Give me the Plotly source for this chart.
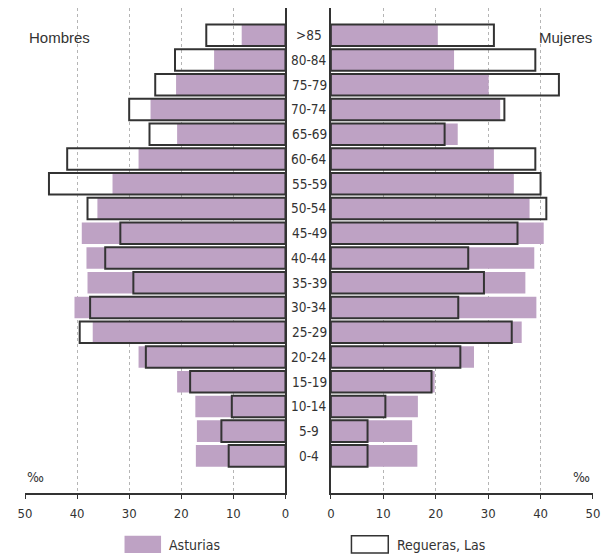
import plotly.graph_objects as go

ages = ["0-4", "5-9", "10-14", "15-19", "20-24", "25-29", "30-34", "35-39", "40-44",
        "45-49", "50-54", "55-59", "60-64", "65-69", "70-74", "75-79", "80-84", ">85"]

asturias_h = [17.2, 17.0, 17.3, 20.8, 28.2, 37.0, 40.5, 38.0, 38.2,
              39.1, 36.1, 33.2, 28.2, 20.8, 25.9, 21.0, 13.7, 8.4]
regueras_h = [10.9, 12.3, 10.3, 18.3, 26.8, 39.5, 37.5, 29.2, 34.6,
              31.7, 38.0, 45.4, 41.9, 26.1, 30.0, 25.0, 21.2, 15.2]
asturias_m = [16.5, 15.5, 16.6, 19.8, 27.3, 36.4, 39.2, 37.1, 38.8,
              40.6, 37.9, 34.9, 31.1, 24.2, 32.3, 30.1, 23.5, 20.4]
regueras_m = [7.0, 7.0, 10.4, 19.2, 24.7, 34.5, 24.3, 29.2, 26.2,
              35.6, 41.1, 40.0, 39.0, 21.7, 33.1, 43.5, 39.0, 31.1]

tick_vals = [0, 10, 20, 30, 40, 50]
tick_text = ["0", "10", "20", "30", "40", "50"]

PURPLE = "#bea2c4"
OUTLINE = "#333333"
NARROW = "Liberation Sans Narrow, DejaVu Sans Condensed, Arial Narrow, sans-serif"
REGULAR = "Liberation Sans, Arial, sans-serif"
idx = list(range(len(ages)))
BW = 0.87

fig = go.Figure()
fig.add_trace(go.Bar(y=idx, x=asturias_h, orientation="h", xaxis="x", yaxis="y",
                     marker=dict(color=PURPLE, line=dict(width=0)), width=BW,
                     name="Asturias", showlegend=False))
fig.add_trace(go.Bar(y=idx, x=regueras_h, orientation="h", xaxis="x", yaxis="y",
                     marker=dict(color="rgba(0,0,0,0)", line=dict(color=OUTLINE, width=2)),
                     width=BW, name="Regueras, Las", showlegend=False))
fig.add_trace(go.Bar(y=idx, x=asturias_m, orientation="h", xaxis="x2", yaxis="y2",
                     marker=dict(color=PURPLE, line=dict(width=0)), width=BW,
                     name="Asturias", showlegend=False))
fig.add_trace(go.Bar(y=idx, x=regueras_m, orientation="h", xaxis="x2", yaxis="y2",
                     marker=dict(color="rgba(0,0,0,0)", line=dict(color=OUTLINE, width=2)),
                     width=BW, name="Regueras, Las", showlegend=False))

xcommon = dict(tickvals=tick_vals, ticktext=tick_text, showgrid=True,
               gridcolor="#b5b5b5", gridwidth=1, griddash="3px,3px",
               showline=True, linecolor="#333333", linewidth=1.5,
               ticks="outside", ticklen=4, tickcolor="#333333", tickwidth=1,
               ticklabelstandoff=4,
               tickfont=dict(family=NARROW, size=13, color="#333333"),
               zeroline=False, fixedrange=True)
ycommon = dict(range=[-1.5, 18.1], showticklabels=False, ticks="", showgrid=False,
               zeroline=False, showline=True, linecolor="#333333", linewidth=1.5,
               fixedrange=True)

L_END = (286.7 - 25) / 570.7
R_START = (332.3 - 25) / 570.7

fig.update_layout(
    width=608, height=557,
    margin=dict(l=25, r=12.3, t=8, b=63.7),
    paper_bgcolor="white", plot_bgcolor="white",
    barmode="overlay", showlegend=False,
    xaxis=dict(domain=[0, L_END], range=[50, 0], anchor="y", **xcommon),
    xaxis2=dict(domain=[R_START, 1], range=[0, 50], anchor="y2", **xcommon),
    yaxis=dict(anchor="x", side="right", **ycommon),
    yaxis2=dict(anchor="x2", side="left", matches="y", **ycommon),
)

annotations = []
for i, a in enumerate(ages):
    annotations.append(dict(x=0.5, xref="paper", y=i, yref="y", text=a, showarrow=False,
                            xanchor="center", yanchor="middle",
                            font=dict(family=NARROW, size=13.5, color="#333333")))
annotations += [
    dict(x=0.003, xref="paper", y=0.939, yref="paper", text="Hombres", showarrow=False,
         xanchor="left", yanchor="middle", font=dict(family=REGULAR, size=15, color="#333333")),
    dict(x=1.0023, xref="paper", y=0.939, yref="paper", text="Mujeres", showarrow=False,
         xanchor="right", yanchor="middle", font=dict(family=REGULAR, size=15, color="#333333")),
    dict(x=(36 - 25) / 570.7, xref="paper", y=0.0326, yref="paper", text="‰", showarrow=False,
         xanchor="center", yanchor="middle", font=dict(family=NARROW, size=14, color="#333333")),
    dict(x=(584 - 25) / 570.7, xref="paper", y=0.0326, yref="paper", text="‰", showarrow=False,
         xanchor="center", yanchor="middle", font=dict(family=NARROW, size=14, color="#333333")),
    dict(x=(167.3 - 25) / 570.7, xref="paper", y=-0.1065, yref="paper", text="Asturias",
         showarrow=False, xanchor="left", yanchor="middle",
         font=dict(family=NARROW, size=14, color="#333333")),
    dict(x=(396.7 - 25) / 570.7, xref="paper", y=-0.1065, yref="paper", text="Regueras, Las",
         showarrow=False, xanchor="left", yanchor="middle",
         font=dict(family=NARROW, size=14, color="#333333")),
]
fig.update_layout(annotations=annotations)

fig.add_shape(type="rect", xref="paper", yref="paper",
              x0=(125 - 25) / 570.7, x1=(161.7 - 25) / 570.7, y0=-0.1236, y1=-0.088,
              fillcolor=PURPLE, line=dict(width=0))
fig.add_shape(type="rect", xref="paper", yref="paper",
              x0=(353 - 25) / 570.7, x1=(390 - 25) / 570.7, y0=-0.1236, y1=-0.088,
              fillcolor="white", line=dict(color=OUTLINE, width=1.5))

fig.write_html("out.html", config={"displayModeBar": False},
               post_script="document.body.style.margin='0';")
